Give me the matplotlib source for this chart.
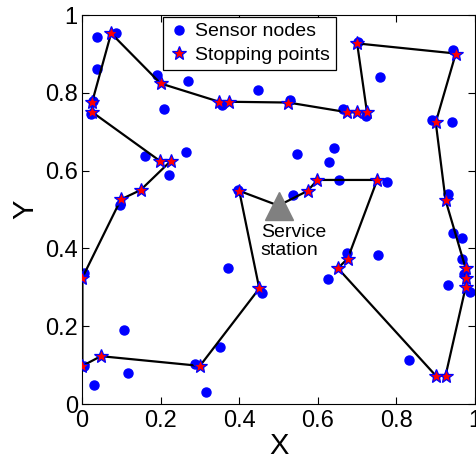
import numpy as np
import matplotlib
matplotlib.use('Agg')
import matplotlib.pyplot as plt

plt.rcParams['font.family'] = ['Liberation Sans', 'DejaVu Sans']

# 传感器节点
node_x = [0.039, 0.086, 0.037, 0.192, 0.269, 0.447, 0.209, 0.022, 0.028, 0.355,
          0.161, 0.265, 0.221, 0.097, 0.398,
          0.703, 0.945, 0.757, 0.529, 0.663, 0.723, 0.890, 0.941, 0.546, 0.640,
          0.629, 0.655, 0.777, 0.536, 0.930,
          0.005, 0.371, 0.457, 0.107, 0.351, 0.005, 0.118, 0.031, 0.288, 0.316,
          0.943, 0.966, 0.752, 0.673, 0.627, 0.966, 0.932, 0.987, 0.833, 0.972]
node_y = [0.944, 0.955, 0.860, 0.845, 0.830, 0.806, 0.759, 0.745, 0.780, 0.769,
          0.638, 0.648, 0.588, 0.512, 0.550,
          0.931, 0.910, 0.841, 0.781, 0.758, 0.740, 0.730, 0.724, 0.644, 0.659,
          0.622, 0.576, 0.572, 0.537, 0.541,
          0.336, 0.349, 0.285, 0.190, 0.147, 0.098, 0.079, 0.050, 0.104, 0.032,
          0.439, 0.428, 0.382, 0.387, 0.321, 0.374, 0.306, 0.289, 0.113, 0.335]

# 停靠点 (按路径顺序)
stop_x = [0.400, 0.451, 0.300, 0.048, 0.001, 0.001, 0.099, 0.149, 0.226, 0.198,
          0.025, 0.026, 0.074, 0.200, 0.349, 0.375, 0.525, 0.675, 0.700, 0.725,
          0.700, 0.951, 0.900, 0.925, 0.976, 0.976, 0.976, 0.925, 0.900, 0.651,
          0.676, 0.751, 0.599, 0.574]
stop_y = [0.548, 0.297, 0.098, 0.123, 0.098, 0.325, 0.526, 0.550, 0.625, 0.625,
          0.751, 0.777, 0.953, 0.824, 0.777, 0.777, 0.775, 0.750, 0.750, 0.750,
          0.927, 0.901, 0.724, 0.524, 0.349, 0.325, 0.300, 0.073, 0.073, 0.349,
          0.374, 0.576, 0.576, 0.548]

# 服务站
station = (0.5, 0.51)

tour_x = [station[0]] + stop_x + [station[0]]
tour_y = [station[1]] + stop_y + [station[1]]

fig = plt.figure(figsize=(4.76, 4.62), dpi=100)
ax = fig.add_axes([0.1723, 0.1255, 0.8257, 0.842])

ax.plot(node_x, node_y, 'o', color='#0000ff', markersize=6.5, linestyle='none',
        label='Sensor nodes', zorder=2)
ax.plot(tour_x, tour_y, '-', color='black', linewidth=1.6, zorder=3)
ax.plot(stop_x, stop_y, '*', markerfacecolor='red', markeredgecolor='#0000ff',
        markeredgewidth=0.9, markersize=10, linestyle='none',
        label='Stopping points', zorder=4)
ax.plot(station[0], station[1], '^', color='#808080', markersize=20, zorder=5)
ax.text(0.455, 0.463, 'Service\nstation', fontsize=14, ha='left', va='top',
        linespacing=1.1)

ax.set_xlim(0, 1)
ax.set_ylim(0, 1)
ticks = [0, 0.2, 0.4, 0.6, 0.8, 1]
labels = ['0', '0.2', '0.4', '0.6', '0.8', '1']
ax.set_xticks(ticks)
ax.set_xticklabels(labels)
ax.set_yticks(ticks)
ax.set_yticklabels(labels)
ax.tick_params(direction='in', top=True, right=True, length=5, labelsize=17)
ax.tick_params(axis='x', pad=4)
ax.tick_params(axis='y', pad=3)
ax.set_xlabel('X', fontsize=21, labelpad=0)
ax.set_ylabel('Y', fontsize=21, labelpad=4)

leg = ax.legend(loc='upper left', bbox_to_anchor=(0.206, 0.995), borderaxespad=0,
                fontsize=14, handlelength=1.0, handletextpad=0.35, borderpad=0.3,
                labelspacing=0.3, fancybox=False, framealpha=1)
leg.get_frame().set_edgecolor('black')
leg.get_frame().set_linewidth(0.9)

fig.savefig('out.png', dpi=100)
